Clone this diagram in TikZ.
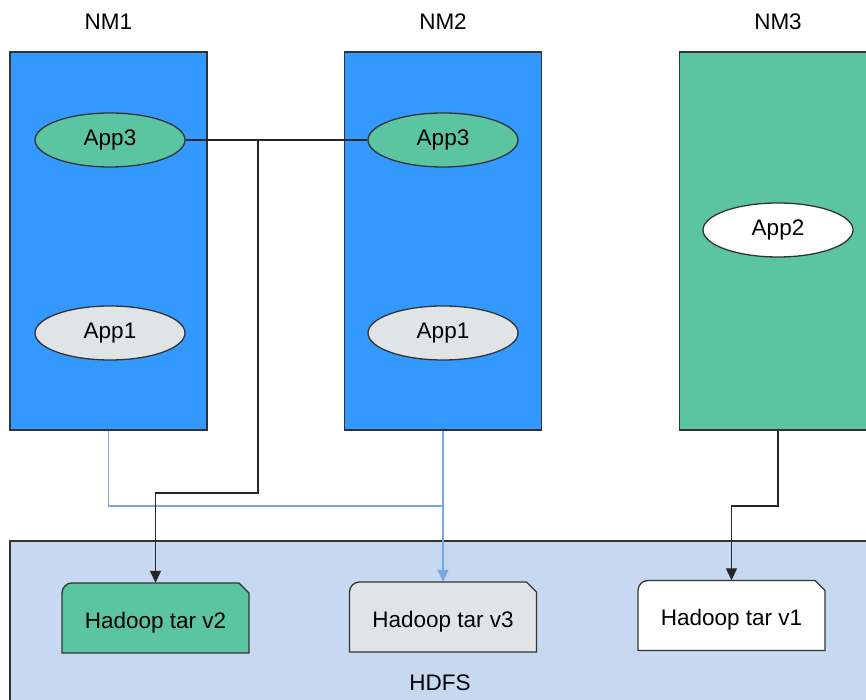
\documentclass[tikz,border=0pt]{standalone}
\usepackage{fontspec}
\setmainfont{Liberation Sans}
\usetikzlibrary{arrows.meta,shapes.geometric,positioning}

\definecolor{nmblue}{HTML}{3399FF}
\definecolor{appgreen}{HTML}{5BC4A0}
\definecolor{appgray}{HTML}{E1E4E6}
\definecolor{hdfsblue}{HTML}{C6D9F0}
\definecolor{wireblue}{HTML}{7BA7E0}

% tar file on HDFS: rounded top-left corner, cut top-right corner
\newcommand{\tarfile}[2]{%
  \begin{scope}[shift={(#1)}]
    \filldraw[fill=#2, draw=black!80, line width=1.3pt]
      (-93.5,-35) -- (-93.5,25) arc[start angle=180, end angle=90, radius=10]
      -- (83.5,35) -- (93.5,25) -- (93.5,-35) -- cycle;
  \end{scope}}

\begin{document}
\begin{tikzpicture}[x=1pt, y=1pt, every node/.style={font=\fontsize{22.5}{26}\selectfont},
  nmbox/.style={draw=black!80, line width=1.3pt, minimum width=197pt, minimum height=378pt, inner sep=0pt},
  app/.style={ellipse, draw=black!80, line width=1.3pt, minimum width=150pt, minimum height=54pt, inner sep=0pt},
  tar/.style={minimum width=187pt, minimum height=70pt, inner sep=0pt, text height=25pt},
  wire/.style={line width=1.4pt, draw=black!85},
  link/.style={wire, -{Triangle[length=12pt, width=11pt]}},
  bluewire/.style={line width=1.4pt, draw=wireblue},
  bluelink/.style={bluewire, -{Triangle[length=12pt, width=11pt]}}]
  \clip (0,0) rectangle (866,700);

  % Node managers
  \node[nmbox, fill=nmblue]   (nm1) at (108.5,459) {};
  \node[nmbox, fill=nmblue]   (nm2) at (443,459)   {};
  \node[nmbox, fill=appgreen] (nm3) at (778,459)   {};
  \node (nm1lab) at (108.5,678) {NM1};
  \node (nm2lab) at (443,678)   {NM2};
  \node (nm3lab) at (778,678)   {NM3};

  % Applications
  \node[app, fill=appgreen] (app3a) at (110,560) {App3};
  \node[app, fill=appgray]  (app1a) at (110,367) {App1};
  \node[app, fill=appgreen] (app3b) at (443,560) {App3};
  \node[app, fill=appgray]  (app1b) at (443,367) {App1};
  \node[app, fill=white]    (app2)  at (778,470) {App2};

  % HDFS
  \node[draw=black!80, line width=1.3pt, fill=hdfsblue, minimum width=870pt, minimum height=169pt] (hdfs) at (445,74.5) {};
  \node (hdfslab) at (440,17) {HDFS};

  \tarfile{155.5,82}{appgreen}
  \tarfile{443,83}{appgray}
  \tarfile{731.5,84.5}{white}
  \node[tar] (v2) at (155.5,82)   {Hadoop tar v2};
  \node[tar] (v3) at (443,83)     {Hadoop tar v3};
  \node[tar] (v1) at (731.5,84.5) {Hadoop tar v1};

  % Connectors
  \coordinate (bus)  at (443,194);
  \coordinate (tap)  at (258,560);
  \coordinate (drop) at (258,207);
  \coordinate (nm3bend) at (778,194);
  \draw[bluewire] (nm1.south) |- (bus);
  \draw[bluelink] (nm2.south) -- (v3.north);
  \draw[wire] (app3a) -- (app3b);
  \draw[link] (tap) -- (drop) -| (v2.north);
  \draw[link] (nm3.south) -- (nm3bend) -| (v1.north);
\end{tikzpicture}
\end{document}
